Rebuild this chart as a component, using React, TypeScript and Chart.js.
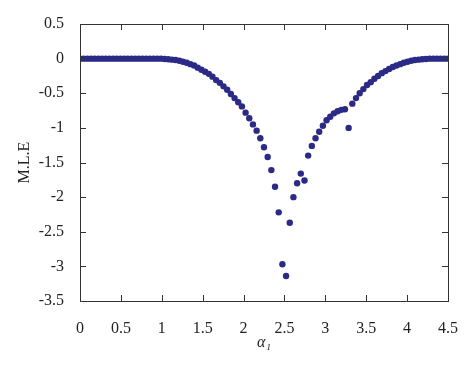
import React, { useEffect, useRef } from "react";
import { Chart, registerables } from "chart.js";

Chart.register(...registerables);

const alphaValues = [
  0, 0.045, 0.09, 0.135, 0.18, 0.225, 0.27, 0.315, 0.36, 0.405, 0.45, 0.495, 0.54, 0.585, 0.63, 0.675,
  0.72, 0.765, 0.81, 0.855, 0.9, 0.945, 0.99, 1.035, 1.08, 1.125, 1.17, 1.215, 1.26, 1.305, 1.35, 1.395,
  1.44, 1.485, 1.53, 1.575, 1.62, 1.665, 1.71, 1.755, 1.8, 1.845, 1.89, 1.935, 1.98, 2.025, 2.07, 2.115,
  2.16, 2.205, 2.25, 2.295, 2.34, 2.385, 2.43, 2.475, 2.52, 2.565, 2.61, 2.655, 2.7, 2.745, 2.79, 2.835,
  2.88, 2.925, 2.97, 3.015, 3.06, 3.105, 3.15, 3.195, 3.24, 3.285, 3.33, 3.375, 3.42, 3.465, 3.51, 3.555,
  3.6, 3.645, 3.69, 3.735, 3.78, 3.825, 3.87, 3.915, 3.96, 4.005, 4.05, 4.095, 4.14, 4.185, 4.23, 4.275,
  4.32, 4.365, 4.41, 4.455, 4.5,
];

const mleValues = [
  0, 0, 0, 0, 0, 0, 0, 0, 0, 0, 0, 0, 0, 0, 0, 0, 0, 0, 0, 0, 0, 0, 0,
  -0.005, -0.01, -0.015, -0.02, -0.03, -0.045, -0.06, -0.08, -0.1, -0.13, -0.16, -0.19, -0.22, -0.26,
  -0.31, -0.35, -0.4, -0.45, -0.51, -0.57, -0.63, -0.69, -0.78, -0.86, -0.95, -1.04, -1.15, -1.28,
  -1.42, -1.61, -1.85, -2.22, -2.97, -3.14, -2.37, -2.0, -1.8, -1.66, -1.76, -1.4, -1.26, -1.15,
  -1.055, -0.97, -0.89, -0.84, -0.79, -0.76, -0.74, -0.73, -1.0, -0.65, -0.57, -0.5, -0.44, -0.38,
  -0.34, -0.29, -0.25, -0.21, -0.18, -0.15, -0.12, -0.1, -0.08, -0.06, -0.045, -0.03, -0.02, -0.015,
  -0.01, -0.005,
  0, 0, 0, 0, 0, 0,
];

const xTickValues = [0, 0.5, 1, 1.5, 2, 2.5, 3, 3.5, 4, 4.5];
const xTickLabels = ["0", "0.5", "1", "1.5", "2", "2.5", "3", "3.5", "4", "4.5"];
const yTickValues = [0.5, 0, -0.5, -1, -1.5, -2, -2.5, -3, -3.5];
const yTickLabels = ["0.5", "0", "-0.5", "-1", "-1.5", "-2", "-2.5", "-3", "-3.5"];

const FONT = "'Liberation Serif', 'Times New Roman', serif";
const AXIS_COLOR = "#333333";
const TEXT_COLOR = "#222222";
const POINT_COLOR = "rgb(43,42,134)";

const frameTicks = {
  id: "frameTicks",
  afterDatasetsDraw(chart: any) {
    const { ctx, chartArea } = chart;
    const { left, right, top, bottom } = chartArea;
    const xs = chart.scales.x;
    const ys = chart.scales.y;
    const len = 6;
    ctx.save();
    ctx.strokeStyle = AXIS_COLOR;
    ctx.lineWidth = 1;
    ctx.beginPath();
    for (const v of xTickValues) {
      const px = Math.round(xs.getPixelForValue(v)) + 0.5;
      ctx.moveTo(px, bottom);
      ctx.lineTo(px, bottom - len);
      ctx.moveTo(px, top);
      ctx.lineTo(px, top + len);
    }
    for (const v of yTickValues) {
      const py = Math.round(ys.getPixelForValue(v)) + 0.5;
      ctx.moveTo(left, py);
      ctx.lineTo(left + len, py);
      ctx.moveTo(right, py);
      ctx.lineTo(right - len, py);
    }
    ctx.stroke();
    ctx.strokeRect(Math.round(left) + 0.5, Math.round(top) + 0.5, Math.round(right - left), Math.round(bottom - top));
    ctx.restore();
  },
};

export default function App() {
  const canvasRef = useRef<HTMLCanvasElement | null>(null);

  useEffect(() => {
    if (!canvasRef.current) return;
    const points = alphaValues.map((x, i) => ({ x, y: mleValues[i] }));
    const chart = new Chart(canvasRef.current, {
      type: "scatter",
      data: {
        datasets: [
          {
            data: points,
            backgroundColor: POINT_COLOR,
            borderColor: POINT_COLOR,
            borderWidth: 0,
            pointRadius: 3.2,
            pointHoverRadius: 3.2,
          },
        ],
      },
      options: {
        animation: false,
        responsive: false,
        maintainAspectRatio: false,
        layout: { padding: { top: 24, right: 26, left: 0, bottom: 0 } },
        plugins: { legend: { display: false }, tooltip: { enabled: false } },
        scales: {
          x: {
            type: "linear",
            min: 0,
            max: 4.5,
            grid: { display: false },
            border: { display: false },
            afterBuildTicks: (scale: any) => {
              scale.ticks = xTickValues.map((v) => ({ value: v }));
            },
            afterFit: (scale: any) => {
              scale.height = 67;
            },
            ticks: {
              padding: 10,
              color: TEXT_COLOR,
              font: { family: FONT, size: 16 },
              maxRotation: 0,
              autoSkip: false,
              callback: (_v: any, i: number) => xTickLabels[i],
            },
            title: {
              display: true,
              text: "α₁",
              color: TEXT_COLOR,
              font: { family: FONT, size: 16, style: "italic" },
              padding: { top: 0, bottom: 16 },
            },
          },
          y: {
            type: "linear",
            min: -3.5,
            max: 0.5,
            grid: { display: false },
            border: { display: false },
            afterBuildTicks: (scale: any) => {
              scale.ticks = yTickValues.map((v) => ({ value: v }));
            },
            afterFit: (scale: any) => {
              scale.width = 80;
            },
            ticks: {
              padding: 8,
              color: TEXT_COLOR,
              font: { family: FONT, size: 16 },
              autoSkip: false,
              callback: (_v: any, i: number) => yTickLabels[i],
            },
            title: {
              display: true,
              text: "M.L.E",
              color: TEXT_COLOR,
              font: { family: FONT, size: 16 },
              padding: { top: 15, bottom: 0 },
            },
          },
        },
      },
      plugins: [frameTicks],
    });
    return () => chart.destroy();
  }, []);

  return (
    <div style={{ position: "absolute", left: 0, top: 0, width: 474, height: 368, background: "#fff" }}>
      <canvas ref={canvasRef} width={474} height={368} style={{ display: "block", width: 474, height: 368 }} />
    </div>
  );
}
